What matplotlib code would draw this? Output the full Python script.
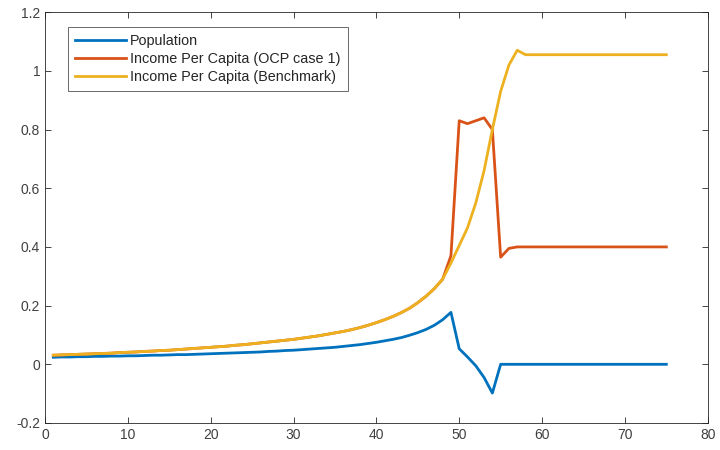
import numpy as np
import matplotlib
matplotlib.use('Agg')
import matplotlib.pyplot as plt
from matplotlib.ticker import FuncFormatter

plt.rcParams['font.family'] = ['Liberation Sans', 'DejaVu Sans']

periods = list(range(1, 76))

population = [
    0.024, 0.025, 0.025, 0.026, 0.026, 0.027, 0.027, 0.028, 0.028, 0.029,
    0.029, 0.030, 0.031, 0.031, 0.032, 0.033, 0.033, 0.034, 0.035, 0.036,
    0.037, 0.038, 0.039, 0.040, 0.041, 0.042, 0.044, 0.045, 0.047, 0.048,
    0.050, 0.052, 0.054, 0.056, 0.058, 0.061, 0.064, 0.067, 0.071, 0.075,
    0.080, 0.085, 0.091, 0.099, 0.108, 0.119, 0.133, 0.152, 0.177, 0.053,
    0.025, -0.005, -0.045, -0.098, 0.0] + [0.0] * 20

benchmark = [
    0.031, 0.032, 0.033, 0.034, 0.035, 0.036, 0.037, 0.038, 0.040, 0.041,
    0.042, 0.044, 0.045, 0.047, 0.048, 0.050, 0.052, 0.054, 0.056, 0.058,
    0.060, 0.062, 0.065, 0.067, 0.070, 0.073, 0.076, 0.079, 0.082, 0.085,
    0.089, 0.093, 0.097, 0.102, 0.107, 0.112, 0.118, 0.125, 0.133, 0.142,
    0.152, 0.163, 0.176, 0.191, 0.210, 0.232, 0.258, 0.290, 0.345, 0.405,
    0.465, 0.550, 0.660, 0.800, 0.930, 1.020, 1.070, 1.055] + [1.055] * 17

ocp_case1 = benchmark[:47] + [
    0.290, 0.370, 0.830, 0.820, 0.830, 0.840, 0.800, 0.365, 0.395, 0.400] + [0.400] * 18

fig = plt.figure(figsize=(7.2, 4.5), dpi=100)
ax = fig.add_axes([0.0625, 0.06, 0.9205, 0.913])

ax.plot(periods, population, color='#0072BD', lw=2, label='Population')
ax.plot(periods, ocp_case1, color='#D95319', lw=2, label='Income Per Capita (OCP case 1)')
ax.plot(periods, benchmark, color='#EDB120', lw=2, label='Income Per Capita (Benchmark)')

ax.set_xlim(0, 80)
ax.set_ylim(-0.2, 1.2)
ax.set_xticks(np.arange(0, 81, 10))
ax.set_yticks(np.arange(-0.2, 1.21, 0.2))
ax.yaxis.set_major_formatter(FuncFormatter(lambda v, p: '%g' % round(v, 1)))

ax.tick_params(direction='in', top=True, right=True, length=4, colors='#262626',
               labelsize=10, labelcolor='#404040', width=0.6)
for s in ax.spines.values():
    s.set_color('#262626')
    s.set_linewidth(0.6)

# legend box, MATLAB look
leg = ax.legend(loc='upper left', bbox_to_anchor=(0.035, 0.964), fontsize=10.4,
                frameon=True, fancybox=False, handlelength=3.5, borderpad=0.5,
                labelspacing=0.26, handletextpad=0.3, borderaxespad=0)
leg.get_frame().set_edgecolor('#262626')
leg.get_frame().set_linewidth(0.6)
for t in leg.get_texts():
    t.set_color('#262626')

plt.savefig('out.png', dpi=100)
